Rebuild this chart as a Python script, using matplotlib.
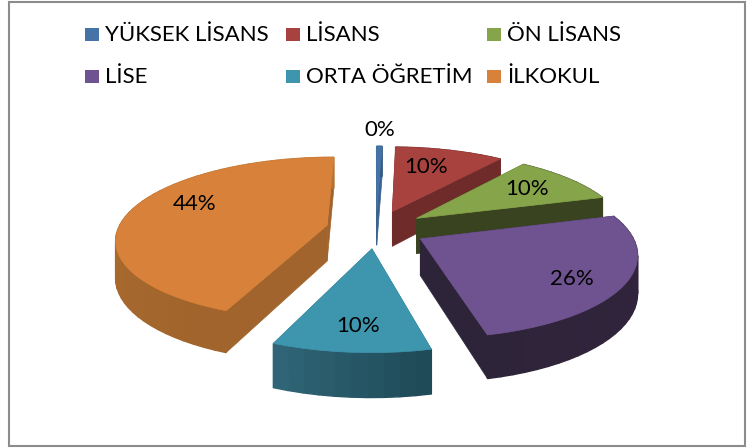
import numpy as np
import matplotlib
matplotlib.use('Agg')
import matplotlib.pyplot as plt
from matplotlib.patches import Polygon, Rectangle

# Chart data
categories = ['YÜKSEK LİSANS', 'LİSANS', 'ÖN LİSANS', 'LİSE', 'ORTA ÖĞRETİM', 'İLKOKUL']
values = [0.5, 10, 10, 26, 10, 44]
percent_labels = ['0%', '10%', '10%', '26%', '10%', '44%']

# Styles
top_colors = ['#4573A7', '#A8423F', '#86A44A', '#6F5390', '#3D96AE', '#D8813A']
face_colors = ['#3A6390', '#6E2B29', '#3A431F', '#2E2439', '#2A6072', '#A0642C']
wall_start = ['#3A6390', '#6E2B29', '#3A431F', '#33233F', '#1F4A57', '#A0642C']
wall_end = ['#345A84', '#6E2B29', '#3A431F', '#2E2439', '#2F6577', '#B5722F']
draw_order = [0, 1, 2, 3, 5, 4]

# Pie geometry in pixels
cx, cy = 376, 229
rx, ry = 209, 80
persp = 0.16
explode = 0.24
depth = 36

# label placement along the bisector, plus a small nudge
label_r = [1.15, 0.7, 0.65, 0.62, 0.55, 0.7]
label_nudge = [(0, -8), (-8, 0), (9, -3), (29, 13), (-3, 25), (6, -11)]


def project(x, y):
    # y is positive towards the back of the pie
    s = 1 / (1 + persp * y)
    return cx + rx * x * s, cy - ry * y * s, s


fig = plt.figure(figsize=(7.55, 4.48), dpi=100)
ax = fig.add_axes([0, 0, 1, 1])
ax.set_xlim(0, 755)
ax.set_ylim(448, 0)
ax.axis('off')
plt.rcParams['font.family'] = ['Lato', 'DejaVu Sans']

# Chart frame
ax.add_patch(Rectangle((9, 2), 736, 444, fill=False, ec='#8C8C8C', lw=1.5))

# Slice angles, clockwise from 12 o'clock
fractions = np.array(values) / np.sum(values)
ends = np.cumsum(fractions) * 2 * np.pi
starts = ends - fractions * 2 * np.pi
mids = (starts + ends) / 2

for order, i in enumerate(draw_order):
    ox, oy = explode * np.sin(mids[i]), explode * np.cos(mids[i])
    ang = np.linspace(starts[i], ends[i], max(3, int(fractions[i] * 120)))
    tip = project(ox, oy)
    arc = [project(ox + np.sin(a), oy + np.cos(a)) for a in ang]
    z = 2 + order

    # radial faces
    for p, q in [(tip, arc[0]), (tip, arc[-1])]:
        ax.add_patch(Polygon([(p[0], p[1]), (q[0], q[1]),
                              (q[0], q[1] + depth * q[2]), (p[0], p[1] + depth * p[2])],
                             fc=face_colors[i], ec=face_colors[i], lw=0.5, zorder=z))
    # outer wall, shaded strip by strip
    c0 = np.array(matplotlib.colors.to_rgb(wall_start[i]))
    c1 = np.array(matplotlib.colors.to_rgb(wall_end[i]))
    for k in range(len(arc) - 1):
        p, q = arc[k], arc[k + 1]
        col = c0 + (c1 - c0) * k / max(1, len(arc) - 2)
        ax.add_patch(Polygon([(p[0], p[1]), (q[0], q[1]),
                              (q[0], q[1] + depth * q[2]), (p[0], p[1] + depth * p[2])],
                             fc=col, ec=col, lw=1, zorder=z))
    ax.add_patch(Polygon([(p[0], p[1]) for p in [tip] + arc], fc=top_colors[i],
                         ec=top_colors[i], lw=0.5, zorder=z))

# Percent labels
for i, lab in enumerate(percent_labels):
    ox, oy = explode * np.sin(mids[i]), explode * np.cos(mids[i])
    lx, ly, _ = project(ox + label_r[i] * np.sin(mids[i]), oy + label_r[i] * np.cos(mids[i]))
    ax.text(lx + label_nudge[i][0], ly + label_nudge[i][1], lab, fontsize=16,
            ha='center', va='center', color='black', zorder=20)

# Legend, three columns by two rows
legend_x = [85, 286, 487]
legend_y = [35, 77]
for i, name in enumerate(categories):
    x = legend_x[i % 3]
    y = legend_y[i // 3]
    ax.add_patch(Rectangle((x, y - 6.5), 14, 13, fc=top_colors[i], ec='none', zorder=20))
    ax.text(x + 20, y, name, fontsize=16, ha='left', va='center', color='black', zorder=20)

fig.savefig('out.png', dpi=100)
